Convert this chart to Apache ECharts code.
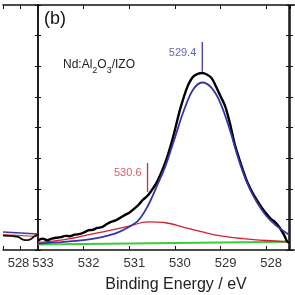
<!DOCTYPE html>
<html>
<head>
<meta charset="utf-8">
<script src="https://cdn.jsdelivr.net/npm/echarts@6/dist/echarts.min.js"></script>
<style>
  html, body { margin: 0; padding: 0; background: #fff; }
  #chart { width: 295px; height: 295px; }
</style>
</head>
<body>
<div id="chart"></div>
<script>
// O 1s spectrum, panel (b); x in eV (plotted high -> low), y in arbitrary units
const measured = [
  [533.0, -0.7], [532.9, -0.63], [532.8, -0.68], [532.7, -0.63], [532.6, -0.6], [532.5, -0.58],
  [532.4, -0.54], [532.3, -0.55], [532.2, -0.5], [532.1, -0.48], [532.0, -0.43], [531.9, -0.36],
  [531.8, -0.34], [531.7, -0.28], [531.6, -0.25], [531.5, -0.16], [531.4, -0.08], [531.3, -0.03],
  [531.2, 0.05], [531.1, 0.14], [531.0, 0.22], [530.9, 0.34], [530.8, 0.47], [530.7, 0.64],
  [530.6, 0.77], [530.5, 0.97], [530.4, 1.2], [530.3, 1.52], [530.2, 1.9], [530.1, 2.37],
  [530.0, 2.92], [529.9, 3.52], [529.8, 4.02], [529.7, 4.42], [529.6, 4.66], [529.5, 4.75],
  [529.4, 4.78], [529.3, 4.73], [529.2, 4.62], [529.1, 4.34], [529.0, 4.02], [528.9, 3.7],
  [528.8, 3.17], [528.7, 2.52], [528.6, 2.02], [528.5, 1.57], [528.4, 1.17], [528.3, 0.87],
  [528.2, 0.62], [528.1, 0.39], [528.0, 0.19], [527.9, 0.02], [527.8, -0.1], [527.7, -0.28],
  [527.6, -0.53], [527.55, -0.7], [527.5, -0.76]
]
const fitLattice = [
  [533, -0.79], [532.5, -0.74], [532, -0.68], [531.6, -0.58], [531.3, -0.46], [531.05, -0.28],
  [530.8, -0.03], [530.6, 0.42], [530.4, 1.07], [530.2, 1.77], [530.0, 2.67], [529.8, 3.57],
  [529.6, 4.24], [529.4, 4.47], [529.2, 4.3], [529.0, 3.79], [528.8, 2.94], [528.6, 1.94],
  [528.4, 1.13], [528.2, 0.55], [528.0, 0.12], [527.8, -0.18], [527.5, -0.5]
]
const fitHydroxyl = [
  [533, -0.76], [532.5, -0.68], [532, -0.54], [531.5, -0.38], [531, -0.22], [530.6, -0.08],
  [530.2, -0.11], [529.8, -0.26], [529.4, -0.41], [529, -0.54], [528.5, -0.63], [528, -0.69],
  [527.5, -0.73]
]
const background = [[533, -0.82], [527.5, -0.73]]

// edge of the neighbouring panel (a) on the left
const leftMeasured = [
  [528.5, -0.53], [528.2, -0.55], [528.05, -0.58], [527.95, -0.65], [527.8, -0.68],
  [527.7, -0.64], [527.6, -0.55], [527.5, -0.5]
]
const leftFitBlue = [[528.5, -0.41], [527.5, -0.48]]
const leftFitRed = [[528.5, -0.5], [527.5, -0.56]]

// peak markers
const peakEnergies = [529.4, 530.6]
const peakLabels = ['529.4', '530.6']
const peakColors = ['#3b3ba6', '#d42a48']
const markTop = [5.79, 1.84]
const markBottom = [4.82, 0.89]
const labelLevel = [5.43, 1.53]

// energies are negated so the axis runs high -> low with min on a whole tick
const flip = pts => pts.map(p => [-p[0], p[1]])

const FONT = '"Liberation Sans", Arial, sans-serif'
const AXIS = { show: true, onZero: false, lineStyle: { color: '#111', width: 1.5 } }
const TICK = { color: '#111', width: 1 }

const xBottom = (grid, high, low, step, pad) => ({
  type: 'value', gridIndex: grid, min: -high, max: -low, interval: step, position: 'bottom',
  axisLine: AXIS, splitLine: { show: false },
  axisTick: { show: true, inside: true, length: 4, lineStyle: TICK },
  axisLabel: {
    margin: 7, color: '#333', fontSize: 13, fontFamily: FONT, padding: pad,
    hideOverlap: false,
    formatter: v => Number.isInteger(v) ? String(-v) : ''
  }
})
const xTop = (grid, high, low, step) => ({
  type: 'value', gridIndex: grid, min: -high, max: -low, interval: step, position: 'top',
  axisLine: AXIS, splitLine: { show: false }, axisLabel: { show: false },
  axisTick: { show: true, inside: true, length: 4, lineStyle: TICK }
})
const yAx = (grid, pos, show) => ({
  type: 'value', gridIndex: grid, position: pos, min: -1, max: 7, interval: 1,
  axisLine: show ? AXIS : { show: false }, splitLine: { show: false }, axisLabel: { show: false },
  axisTick: { show: show, inside: true, length: 3, lineStyle: TICK }
})

const line = (data, color, width, xi, yi, smooth) => ({
  type: 'line', data: flip(data), xAxisIndex: xi, yAxisIndex: yi, showSymbol: false, symbol: 'none',
  smooth: smooth ? 0.35 : false, lineStyle: { color: color, width: width }, silent: true, z: 3
})

const series = [
  // left panel edge
  line(leftFitRed, '#d03040', 1.2, 0, 0, false),
  line(leftFitBlue, '#3b3ba6', 1.5, 0, 0, false),
  line(leftMeasured, '#111', 1.8, 0, 0, true),
  // main panel
  line(background, '#3ec93e', 1.8, 2, 2, false),
  line(fitHydroxyl, '#d42030', 1.3, 2, 2, true),
  line(measured, '#000', 2.4, 2, 2, true),
  line(fitLattice, '#3535a8', 1.8, 2, 2, true)
]
peakEnergies.forEach((e, i) => {
  series.push({
    type: 'line', xAxisIndex: 2, yAxisIndex: 2, symbol: 'none', silent: true,
    data: [[-e, markTop[i]], [-e, markBottom[i]]],
    lineStyle: { color: peakColors[i], width: 1.3 }, z: 4
  })
  series.push({
    type: 'scatter', xAxisIndex: 2, yAxisIndex: 2, symbolSize: 0, silent: true,
    data: [[-e, labelLevel[i]]],
    label: {
      show: true, position: 'left', distance: 6, formatter: peakLabels[i],
      color: peakColors[i], fontSize: 11, fontFamily: FONT
    }
  })
})

const chart = echarts.init(document.getElementById('chart'), null, { renderer: 'canvas' })
chart.setOption({
  animation: false,
  backgroundColor: '#fff',
  grid: [
    { left: 0, width: 38, top: 5, height: 245 },
    { left: 38, width: 251, top: 5, height: 245 },
    { left: 290, width: 251, top: 5, height: 245 }
  ],
  xAxis: [
    xBottom(0, 528.5, 527.5, 0.5, [0, 4, 0, 0]), xTop(0, 528.5, 527.5, 0.5),
    xBottom(1, 533, 527.5, 1, [0, 0, 0, 10]), xTop(1, 533, 527.5, 1),
    xBottom(2, 533, 527.5, 1, [0, 0, 0, 24]), xTop(2, 533, 527.5, 1)
  ],
  yAxis: [
    yAx(0, 'right', true),
    yAx(0, 'left', false),
    yAx(1, 'left', true),
    yAx(1, 'right', true),
    yAx(2, 'left', true)
  ],
  graphic: [
    {
      type: 'text', left: 44, top: 10,
      style: { text: '(b)', fontSize: 18, fontFamily: FONT, fill: '#111' }
    },
    {
      type: 'text', left: 63, top: 59,
      style: {
        text: '{a|Nd:Al}{s|2}{a|O}{s|3}{a|/IZO}', fill: '#222', fontFamily: FONT,
        rich: {
          a: { fontSize: 12, fontFamily: FONT, fill: '#222', lineHeight: 13, verticalAlign: 'top' },
          s: { fontSize: 9, fontFamily: FONT, fill: '#222', lineHeight: 9, verticalAlign: 'top', padding: [7, 0, 0, 0] }
        }
      }
    },
    {
      type: 'text', x: 176, y: 285,
      style: {
        text: 'Binding Energy / eV', fontSize: 16, fontFamily: FONT, fill: '#222',
        align: 'center', verticalAlign: 'middle'
      }
    }
  ],
  series: series
})
</script>
</body>
</html>
